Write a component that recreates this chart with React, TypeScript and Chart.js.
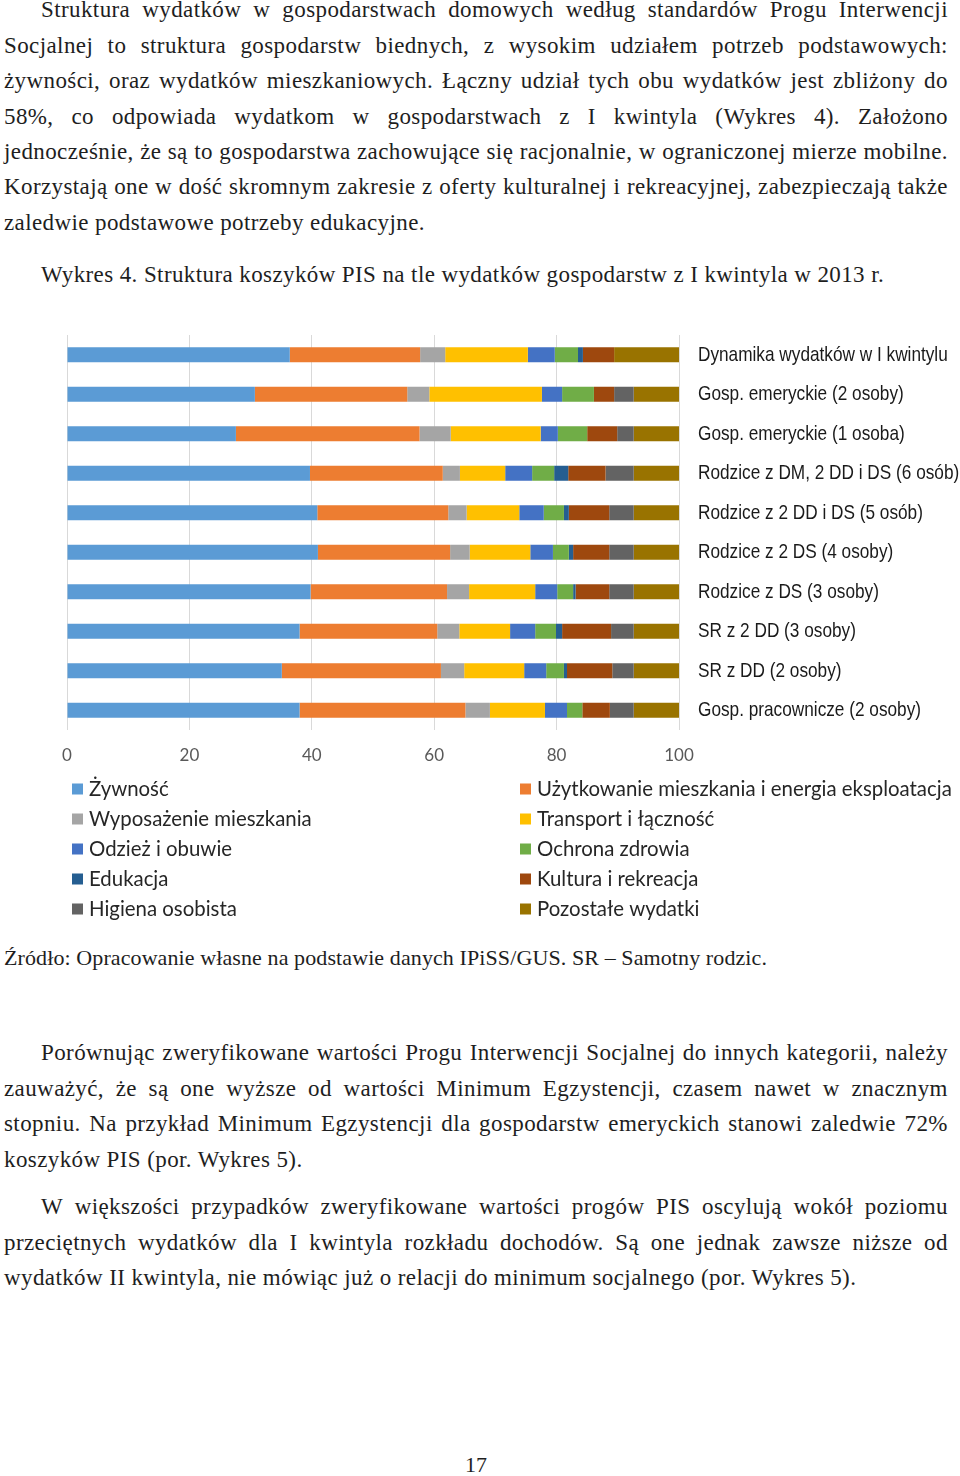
import React, { useEffect, useRef } from "react";
import { Chart, registerables } from "chart.js";

Chart.register(...registerables);

const categories = [
  "Dynamika wydatków w I kwintylu",
  "Gosp. emeryckie (2 osoby)",
  "Gosp. emeryckie (1 osoba)",
  "Rodzice z DM, 2 DD i DS (6 osób)",
  "Rodzice z 2 DD i DS (5 osób)",
  "Rodzice z 2 DS (4 osoby)",
  "Rodzice z DS (3 osoby)",
  "SR z 2 DD (3 osoby)",
  "SR z DD (2 osoby)",
  "Gosp. pracownicze (2 osoby)",
];

const xTicks = [0, 20, 40, 60, 80, 100];

const zywnosc = [36.4, 30.7, 27.6, 39.7, 40.9, 41.0, 39.8, 38.0, 35.1, 38.0];
const uzytkowanie = [21.3, 24.9, 30.0, 21.7, 21.4, 21.6, 22.3, 22.5, 26.0, 27.1];
const wyposazenie = [4.1, 3.6, 5.1, 2.8, 3.0, 3.2, 3.6, 3.6, 3.8, 4.0];
const transport = [13.5, 18.4, 14.7, 7.4, 8.6, 9.9, 10.8, 8.3, 9.8, 9.0];
const odziez = [4.4, 3.3, 2.8, 4.4, 4.0, 3.7, 3.6, 4.1, 3.6, 3.6];
const zdrowie = [3.8, 5.2, 4.8, 3.6, 3.3, 2.6, 2.6, 3.4, 2.9, 2.5];
const edukacja = [0.8, 0, 0, 2.3, 0.8, 0.7, 0.4, 1.0, 0.5, 0];
const kultura = [5.1, 3.3, 4.9, 6.1, 6.6, 5.9, 5.5, 8.0, 7.4, 4.5];
const higiena = [0, 3.2, 2.7, 4.6, 4.0, 4.0, 4.0, 3.7, 3.5, 3.9];
const pozostale = [10.6, 7.4, 7.4, 7.4, 7.4, 7.4, 7.4, 7.4, 7.4, 7.4];

const seriesNames = [
  "Żywność",
  "Użytkowanie mieszkania i energia eksploatacja",
  "Wyposażenie mieszkania",
  "Transport i łączność",
  "Odzież i obuwie",
  "Ochrona zdrowia",
  "Edukacja",
  "Kultura i rekreacja",
  "Higiena osobista",
  "Pozostałe wydatki",
];
const seriesValues = [
  zywnosc,
  uzytkowanie,
  wyposazenie,
  transport,
  odziez,
  zdrowie,
  edukacja,
  kultura,
  higiena,
  pozostale,
];
const seriesColors = [
  "#5B9BD5",
  "#ED7D31",
  "#A5A5A5",
  "#FFC000",
  "#4472C4",
  "#70AD47",
  "#255E91",
  "#9E480E",
  "#636363",
  "#997300",
];

const para1 = [
  "Struktura wydatków w gospodarstwach domowych według standardów Progu Interwencji",
  "Socjalnej to struktura gospodarstw biednych, z wysokim udziałem potrzeb podstawowych:",
  "żywności, oraz wydatków mieszkaniowych. Łączny udział tych obu wydatków jest zbliżony do",
  "58%, co odpowiada wydatkom w gospodarstwach z I kwintyla (Wykres 4). Założono",
  "jednocześnie, że są to gospodarstwa zachowujące się racjonalnie, w ograniczonej mierze mobilne.",
  "Korzystają one w dość skromnym zakresie z oferty kulturalnej i rekreacyjnej, zabezpieczają także",
  "zaledwie podstawowe potrzeby edukacyjne.",
];
const caption = "Wykres 4. Struktura koszyków PIS na tle wydatków gospodarstw z I kwintyla w 2013 r.";
const source = "Źródło: Opracowanie własne na podstawie danych IPiSS/GUS. SR – Samotny rodzic.";
const para2 = [
  "Porównując zweryfikowane wartości Progu Interwencji Socjalnej do innych kategorii, należy",
  "zauważyć, że są one wyższe od wartości Minimum Egzystencji, czasem nawet w znacznym",
  "stopniu. Na przykład Minimum Egzystencji dla gospodarstw emeryckich stanowi zaledwie 72%",
  "koszyków PIS (por. Wykres 5).",
];
const para3 = [
  "W większości przypadków zweryfikowane wartości progów PIS oscylują wokół poziomu",
  "przeciętnych wydatków dla I kwintyla rozkładu dochodów. Są one jednak zawsze niższe od",
  "wydatków II kwintyla, nie mówiąc już o relacji do minimum socjalnego (por. Wykres 5).",
];

const LH = 35.4;
const FONT = "'Liberation Serif', serif";
const BODY: React.CSSProperties = {
  fontFamily: FONT,
  fontSize: 23,
  letterSpacing: "0.4px",
  color: "#1e1e1e",
  whiteSpace: "nowrap",
  lineHeight: LH + "px",
};

function Line(props: { text: string; center: number; indent?: boolean; justify?: boolean }) {
  const { text, center, indent, justify } = props;
  const base: React.CSSProperties = {
    ...BODY,
    position: "absolute",
    left: indent ? 41 : 4,
    width: indent ? 907 : 944,
    top: center - LH / 2,
    height: LH,
  };
  if (!justify) return <div style={base}>{text}</div>;
  return (
    <div style={{ ...base, display: "flex", justifyContent: "space-between" }}>
      {text.split(" ").map((w, i) => (
        <span key={i}>{w}</span>
      ))}
    </div>
  );
}

function Para(props: { lines: string[]; start: number; step: number }) {
  const { lines, start, step } = props;
  return (
    <>
      {lines.map((t, i) => (
        <Line key={i} text={t} center={start + i * step} indent={i === 0} justify={i < lines.length - 1} />
      ))}
    </>
  );
}

const labelsAndLegendPlugin = {
  id: "labelsAndLegend",
  afterDraw(chart: any) {
    const ctx = chart.ctx;
    const area = chart.chartArea;
    const yScale = chart.scales.y;
    ctx.save();
    // category labels (narrow style)
    ctx.font = "21px 'Liberation Sans', Arial, sans-serif";
    ctx.textBaseline = "middle";
    ctx.textAlign = "left";
    ctx.fillStyle = "#1a1a1a";
    (chart.data.labels as string[]).forEach((lab, i) => {
      const y = yScale.getPixelForValue(i);
      ctx.save();
      ctx.translate(area.right + 19, y);
      ctx.scale(0.82, 1);
      ctx.fillText(lab, 0, 0);
      ctx.restore();
    });
    // legend in two columns
    const top = area.bottom + 59;
    ctx.font = "20.4px Lato";
    chart.data.datasets.forEach((ds: any, i: number) => {
      const col = i % 2;
      const row = Math.floor(i / 2);
      const sx = col ? 520 : 72;
      const y = top + row * 30;
      ctx.fillStyle = ds.backgroundColor;
      ctx.fillRect(sx, y - 5.5, 11, 11);
      ctx.fillStyle = "#262626";
      ctx.fillText(ds.label, sx + 17, y);
    });
    ctx.restore();
  },
};

function BarChart() {
  const ref = useRef<HTMLCanvasElement | null>(null);
  useEffect(() => {
    if (!ref.current) return;
    const chart = new Chart(ref.current, {
      type: "bar",
      data: {
        labels: categories,
        datasets: seriesNames.map((name, i) => ({
          label: name,
          data: seriesValues[i],
          backgroundColor: seriesColors[i],
          borderWidth: 0,
          barPercentage: 0.38,
          categoryPercentage: 1,
        })),
      },
      options: {
        indexAxis: "y",
        responsive: false,
        animation: false,
        devicePixelRatio: 1,
        layout: { padding: { left: 67, right: 0, top: 10, bottom: 160 } },
        plugins: { legend: { display: false }, tooltip: { enabled: false } },
        scales: {
          x: {
            stacked: true,
            min: 0,
            max: 100,
            afterBuildTicks: (scale: any) => {
              scale.ticks = xTicks.map((v) => ({ value: v }));
            },
            afterFit: (scale: any) => {
              scale.height = 40;
            },
            grid: { color: "#d9d9d9", drawTicks: false, lineWidth: 1 },
            border: { display: false },
            ticks: {
              padding: 15,
              color: "#595959",
              font: { family: "Lato", size: 17 },
            },
          },
          y: {
            stacked: true,
            position: "right",
            afterFit: (scale: any) => {
              scale.width = 281;
            },
            grid: { display: false, drawTicks: false },
            border: { display: false },
            ticks: { display: false },
          },
        },
      },
      plugins: [labelsAndLegendPlugin],
    } as any);
    return () => chart.destroy();
  }, []);
  return (
    <canvas
      ref={ref}
      width={960}
      height={605}
      style={{ position: "absolute", left: 0, top: 325, width: 960, height: 605 }}
    />
  );
}

export default function App() {
  return (
    <div style={{ position: "absolute", left: 0, top: 0, width: 960, height: 1476, background: "#fff", overflow: "hidden" }}>
      <Para lines={para1} start={10} step={35.4} />
      <div style={{ ...BODY, position: "absolute", left: 41, top: 275 - LH / 2 }}>{caption}</div>
      <BarChart />
      <div style={{ ...BODY, fontSize: 22, letterSpacing: "0.1px", position: "absolute", left: 4, top: 958 - LH / 2 }}>
        {source}
      </div>
      <Para lines={para2} start={1053} step={35.4} />
      <Para lines={para3} start={1207} step={35.4} />
      <div style={{ ...BODY, fontSize: 22, letterSpacing: 0, position: "absolute", left: 0, width: 952, top: 1465 - LH / 2, textAlign: "center" }}>
        17
      </div>
    </div>
  );
}
